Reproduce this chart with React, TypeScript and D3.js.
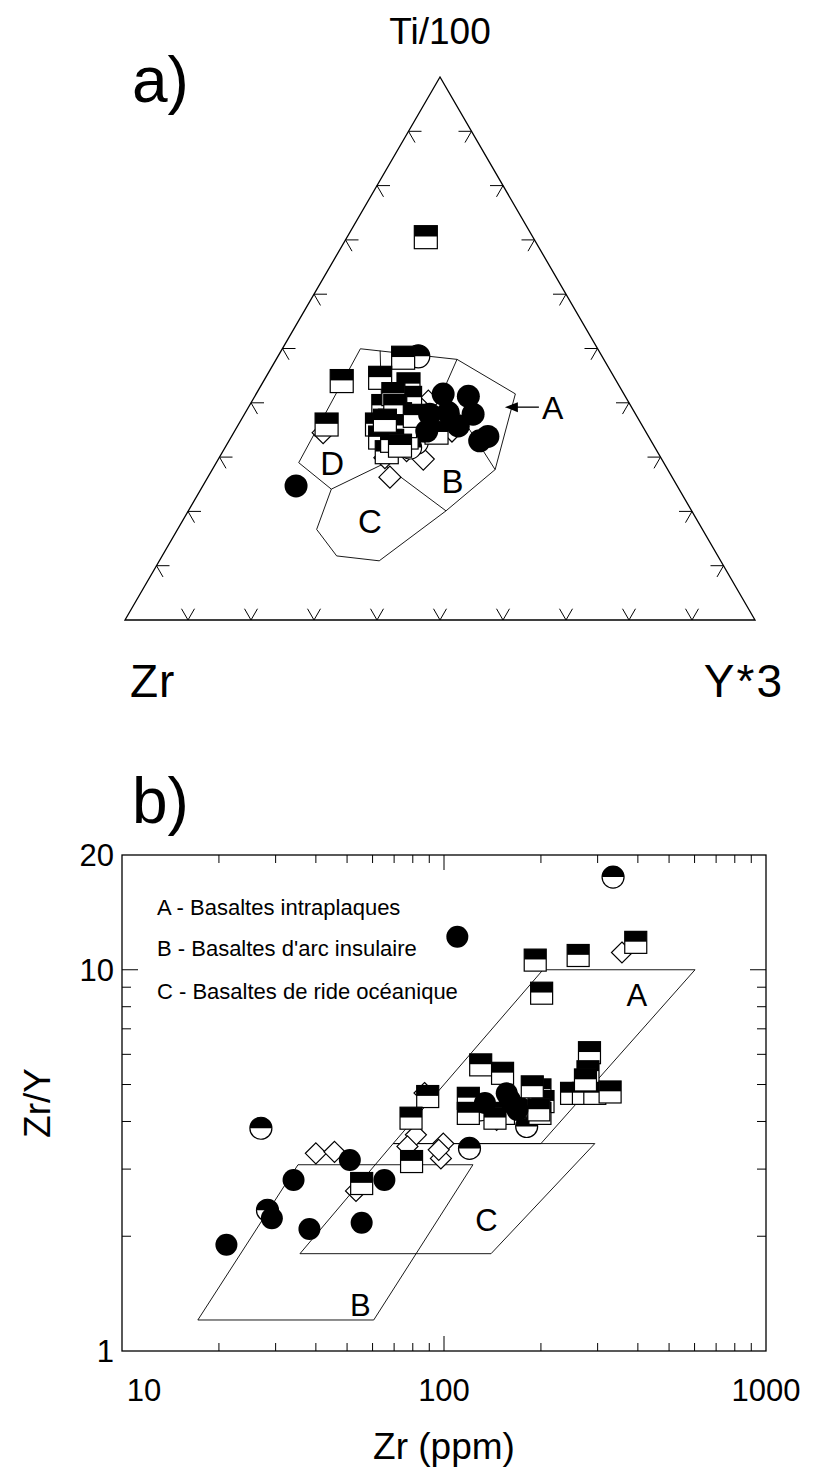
import React, { useEffect, useRef } from "react";
import * as d3 from "d3";

// ---------- a) Ti/100 - Zr - Y*3 (values in % : [Zr, Ti/100, Y*3]) ----------
const triHalfSquares = [
  [17, 70.5, 12.5], [31.7, 48.3, 20], [43.6, 44, 12.4], [37.2, 44.6, 18.2],
  [50, 36, 14], [33.3, 43.4, 23.3], [34.3, 40.9, 24.8], [39.3, 39.4, 21.3],
  [42, 36, 22], [39.6, 36.7, 23.7], [42.7, 33.6, 23.7], [43, 30.9, 26.1],
  [38.5, 33.6, 27.9], [35, 37.3, 27.7], [33.3, 34.5, 32.2], [37.4, 37.9, 24.7],
  [36.6, 41.6, 21.8], [37.4, 39.4, 23.2], [37.7, 35.7, 26.6], [41.1, 33, 25.9],
  [35.2, 37.6, 27.2], [40.4, 36.7, 22.9], [40.3, 32.1, 27.6],
];
const triHalfCircles = [[29.2, 48.6, 22.3], [37.4, 32.7, 30], [38.9, 31.8, 29.4]];
const triCircles = [
  [28.7, 41.6, 29.7], [24.9, 41.2, 33.9], [29.6, 38.2, 32.2], [25.8, 37.9, 36.3],
  [27.2, 33, 39.8], [25.5, 33.8, 40.7], [32.7, 37.9, 29.4], [34.7, 34.8, 30.5],
  [29.2, 35.7, 35], [60.5, 24.7, 14.8],
];
const triDiamonds = [
  [51.3, 34.5, 14.2], [44.8, 26.3, 28.9], [37.8, 29.6, 32.5], [39.7, 31.2, 29.1],
  [30.7, 34.8, 34.5], [31.7, 40.3, 28], [33.7, 39.4, 26.9], [43.8, 29.9, 26.3],
];
// field outline and inner boundaries
const triOutline = [
  [37.7, 50, 12.4], [23.3, 48, 28.7], [17.2, 41.6, 41.1], [27.4, 27.7, 44.9],
  [39, 20.1, 40.9], [54.2, 10.9, 34.9], [60.5, 11.8, 27.7], [61.3, 16.7, 22.1],
  [55.2, 24.1, 20.7], [58, 29, 13.1],
];
const triBoundDC = [[55.2, 24.1, 20.7], [44.6, 28.7, 26.6]];
const triBoundBC = [[44.6, 28.7, 26.6], [39, 20.1, 40.9]];
const triBoundDB = [[44.6, 28.7, 26.6], [34.7, 49.6, 15.7]];
const triBoundAB = [[23.3, 48, 28.7], [28.2, 42.5, 29.4], [27.6, 31.2, 41.3], [27.4, 27.7, 44.9]];
const triFieldLabels = [
  { t: "D", p: [52.7, 29, 18.4] },
  { t: "B", p: [35.2, 25.7, 39.2] },
  { t: "C", p: [51.9, 18.3, 29.7] },
];
const triArrowTip = [20.1, 39.2, 40.7];
const triTicks = [10, 20, 30, 40, 50, 60, 70, 80, 90];

// ---------- b) Zr/Y vs Zr ----------
const zrHalfSquares = [
  [192, 10.6], [261, 10.9], [394, 11.8], [201, 8.68], [130, 5.63], [152, 5.35],
  [283, 6.06], [280, 5.4], [89, 4.65], [79, 4.08], [79.3, 3.14], [55.5, 2.75],
  [119, 4.6], [119, 4.2], [198.6, 4.84], [203, 4.51], [198.6, 4.2], [188, 4.93],
  [249, 4.74], [271, 4.74], [294, 4.74], [328, 4.78], [275, 5.14], [197, 4.29],
  [153, 4.2], [144, 4.08],
];
const zrHalfCircles = [
  [335, 17.5], [27, 3.84], [120, 3.4], [28.3, 2.34], [129.5, 4.29], [180.6, 3.88], [172, 4.33],
];
const zrCircles = [
  [110, 12.2], [51, 3.17], [34.1, 2.81], [29.2, 2.23], [21.1, 1.9], [38.2, 2.09],
  [55.5, 2.17], [65.3, 2.81], [160, 4.56], [156.6, 4.74], [134, 4.47], [169, 4.29],
];
const zrDiamonds = [
  [357, 11.1], [40, 3.3], [45.7, 3.33], [81.8, 3.69], [77, 3.44], [99.5, 3.5],
  [97.8, 3.2], [96.3, 3.37], [53.3, 2.63], [87, 4.75], [145.7, 4.04],
];
const fieldA = [[203, 10], [602, 10], [200, 3.5], [69.5, 3.5]];
const fieldB = [[35.2, 3.08], [123, 3.08], [60.5, 1.206], [17.2, 1.206]];
const fieldC = [[69.5, 3.5], [294, 3.5], [140, 1.8], [35.7, 1.8]];
const fieldLabels = [
  { t: "A", p: [397, 8.6] },
  { t: "B", p: [55, 1.32] },
  { t: "C", p: [135.5, 2.21] },
];
const legendLines = [
  "A - Basaltes intraplaques",
  "B - Basaltes d'arc insulaire",
  "C - Basaltes de ride océanique",
];
const xMinorTicks = [20, 30, 40, 50, 60, 70, 80, 90, 200, 300, 400, 500, 600, 700, 800, 900];
const xMajorTicks = [100];
const yMinorTicks = [2, 3, 4, 5, 6, 7, 8, 9];
const yMajorTicks = [10];
const xTickLabels = [10, 100, 1000];
const yTickLabels = [1, 10, 20];

const FONT = "'Liberation Sans', Arial, Helvetica, sans-serif";

function drawMarkers(g, pts, kind, size) {
  const h = size / 2;
  pts.forEach(([x, y]) => {
    if (kind === "halfSquare") {
      g.append("rect").attr("x", x - h).attr("y", y - h).attr("width", size).attr("height", size)
        .attr("fill", "#fff").attr("stroke", "#000").attr("stroke-width", 1.2);
      g.append("rect").attr("x", x - h).attr("y", y - h).attr("width", size).attr("height", size * 0.47)
        .attr("fill", "#000");
    } else if (kind === "halfCircle") {
      g.append("circle").attr("cx", x).attr("cy", y).attr("r", h)
        .attr("fill", "#fff").attr("stroke", "#000").attr("stroke-width", 1.2);
      g.append("path").attr("d", `M${x - h},${y} A${h},${h} 0 0 1 ${x + h},${y} Z`).attr("fill", "#000");
    } else if (kind === "circle") {
      g.append("circle").attr("cx", x).attr("cy", y).attr("r", h).attr("fill", "#000");
    } else {
      g.append("path").attr("d", `M${x},${y - h} L${x + h},${y} L${x},${y + h} L${x - h},${y} Z`)
        .attr("fill", "#fff").attr("stroke", "#000").attr("stroke-width", 1.2);
    }
  });
}

export default function App() {
  const ref = useRef(null);

  useEffect(() => {
    document.body.style.margin = "0";
    const svg = d3.select(ref.current);
    svg.selectAll("*").remove();
    svg.append("rect").attr("width", 817).attr("height", 1471).attr("fill", "#fff");

    // ---------- panel a ----------
    const A = { x: 440, y: 77 }, L = { x: 125, y: 620 }, R = { x: 755, y: 620 };
    const tiY = d3.scaleLinear().domain([0, 100]).range([L.y, A.y]);
    const side = d3.scaleLinear().domain([0, 100]).range([0, R.x - L.x]);
    const proj = (p) => {
      const s = p[0] + p[1] + p[2];
      const ti = (p[1] / s) * 100, y = (p[2] / s) * 100;
      return [L.x + side(y) + side(ti) / 2, tiY(ti)];
    };
    const ga = svg.append("g");
    const line = d3.line();
    ga.append("path").attr("d", line([[A.x, A.y], [L.x, L.y], [R.x, R.y]]) + "Z")
      .attr("fill", "none").attr("stroke", "#000").attr("stroke-width", 1.3);

    // ternary ticks
    const tl = 13, c60 = 0.5, s60 = Math.sqrt(3) / 2;
    const tickArms = [];
    triTicks.forEach((t) => {
      const f = t / 100;
      const b = [L.x + (R.x - L.x) * f, L.y];
      tickArms.push([b, [b[0] - tl * c60, b[1] - tl * s60]], [b, [b[0] + tl * c60, b[1] - tl * s60]]);
      const l = [L.x + (A.x - L.x) * f, L.y + (A.y - L.y) * f];
      tickArms.push([l, [l[0] + tl, l[1]]], [l, [l[0] + tl * c60, l[1] + tl * s60]]);
      const r = [R.x + (A.x - R.x) * f, R.y + (A.y - R.y) * f];
      tickArms.push([r, [r[0] - tl, r[1]]], [r, [r[0] - tl * c60, r[1] + tl * s60]]);
    });
    ga.selectAll("path.tick").data(tickArms).join("path").attr("class", "tick")
      .attr("d", (d) => line(d)).attr("stroke", "#000").attr("stroke-width", 1).attr("fill", "none");

    ga.append("path").attr("d", line(triOutline.map(proj)) + "Z")
      .attr("fill", "none").attr("stroke", "#000").attr("stroke-width", 0.9);
    [triBoundDC, triBoundBC, triBoundDB, triBoundAB].forEach((b) => {
      ga.append("path").attr("d", line(b.map(proj))).attr("fill", "none")
        .attr("stroke", "#000").attr("stroke-width", 0.9);
    });
    triFieldLabels.forEach((d) => {
      const [x, y] = proj(d.p);
      ga.append("text").attr("x", x).attr("y", y + 12).attr("text-anchor", "middle")
        .attr("font-family", FONT).attr("font-size", 33).text(d.t);
    });
    const tip = proj(triArrowTip);
    ga.append("path").attr("d", line([[tip[0] + 8, tip[1]], [tip[0] + 34, tip[1]]]))
      .attr("stroke", "#000").attr("stroke-width", 1.3);
    ga.append("path").attr("d", `M${tip[0]},${tip[1]} L${tip[0] + 13},${tip[1] - 5} L${tip[0] + 13},${tip[1] + 5} Z`)
      .attr("fill", "#000");
    ga.append("text").attr("x", tip[0] + 37).attr("y", tip[1] + 12).attr("font-family", FONT)
      .attr("font-size", 32).text("A");

    drawMarkers(ga, triDiamonds.map(proj), "diamond", 22);
    drawMarkers(ga, triHalfCircles.map(proj), "halfCircle", 23);
    drawMarkers(ga, triHalfSquares.map(proj), "halfSquare", 23);
    drawMarkers(ga, triCircles.map(proj), "circle", 23);

    ga.append("text").attr("x", 440).attr("y", 44).attr("text-anchor", "middle")
      .attr("font-family", FONT).attr("font-size", 37).text("Ti/100");
    ga.append("text").attr("x", 132).attr("y", 102).attr("font-family", FONT)
      .attr("font-size", 64).text("a)");
    ga.append("text").attr("x", 130).attr("y", 697).attr("font-family", FONT)
      .attr("font-size", 46).attr("letter-spacing", 1).text("Zr");
    ga.append("text").attr("x", 784).attr("y", 697).attr("text-anchor", "end")
      .attr("font-family", FONT).attr("font-size", 46).attr("letter-spacing", 2).text("Y*3");

    // ---------- panel b ----------
    const x = d3.scaleLog().domain([10, 1000]).range([122, 766]);
    const y = d3.scaleLog().domain([1, 20]).range([1351, 855]);
    const gb = svg.append("g");
    gb.append("text").attr("x", 132).attr("y", 823).attr("font-family", FONT)
      .attr("font-size", 64).text("b)");

    const pline = d3.line().x((d) => x(d[0])).y((d) => y(d[1]));
    [fieldA, fieldB, fieldC].forEach((f) => {
      gb.append("path").attr("d", pline(f) + "Z").attr("fill", "none")
        .attr("stroke", "#000").attr("stroke-width", 0.9);
    });
    fieldLabels.forEach((d) => {
      gb.append("text").attr("x", x(d.p[0])).attr("y", y(d.p[1]) + 11).attr("text-anchor", "middle")
        .attr("font-family", FONT).attr("font-size", 31).text(d.t);
    });

    gb.append("rect").attr("x", 122).attr("y", 855).attr("width", 644).attr("height", 496)
      .attr("fill", "none").attr("stroke", "#000").attr("stroke-width", 1.3);
    const ticks = [];
    xMinorTicks.forEach((v) => ticks.push([[x(v), 1351], [x(v), 1343]], [[x(v), 855], [x(v), 863]]));
    xMajorTicks.forEach((v) => ticks.push([[x(v), 1351], [x(v), 1336]], [[x(v), 855], [x(v), 870]]));
    yMinorTicks.forEach((v) => ticks.push([[122, y(v)], [131, y(v)]], [[766, y(v)], [757, y(v)]]));
    yMajorTicks.forEach((v) => ticks.push([[122, y(v)], [138, y(v)]], [[766, y(v)], [750, y(v)]]));
    gb.selectAll("path.tk").data(ticks).join("path").attr("class", "tk")
      .attr("d", (d) => line(d)).attr("stroke", "#000").attr("stroke-width", 1);

    xTickLabels.forEach((v, i) => {
      gb.append("text").attr("x", x(v) + (i === 0 ? 22 : 0)).attr("y", 1401).attr("text-anchor", "middle")
        .attr("font-family", FONT).attr("font-size", 31).text(String(v));
    });
    yTickLabels.forEach((v) => {
      gb.append("text").attr("x", 114).attr("y", y(v) + 11).attr("text-anchor", "end")
        .attr("font-family", FONT).attr("font-size", 31).text(String(v));
    });
    gb.append("text").attr("x", 444).attr("y", 1459).attr("text-anchor", "middle")
      .attr("font-family", FONT).attr("font-size", 37).text("Zr (ppm)");
    gb.append("text").attr("transform", "translate(50,1103) rotate(-90)").attr("text-anchor", "middle")
      .attr("font-family", FONT).attr("font-size", 37).text("Zr/Y");

    legendLines.forEach((t, i) => {
      gb.append("text").attr("x", 157).attr("y", [915, 956, 999][i]).attr("font-family", FONT)
        .attr("font-size", 22).text(t);
    });

    const px = (p) => [x(p[0]), y(p[1])];
    drawMarkers(gb, zrDiamonds.map(px), "diamond", 21);
    drawMarkers(gb, zrHalfCircles.map(px), "halfCircle", 22);
    drawMarkers(gb, zrHalfSquares.map(px), "halfSquare", 22);
    drawMarkers(gb, zrCircles.map(px), "circle", 22);
  }, []);

  return <svg ref={ref} width={817} height={1471} style={{ display: "block" }} />;
}
